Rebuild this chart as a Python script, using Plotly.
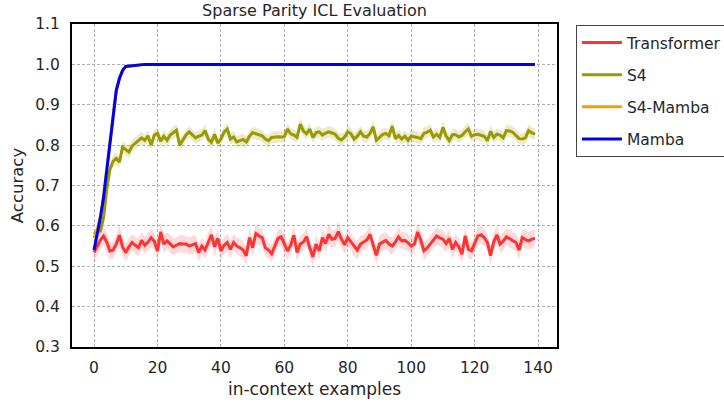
import plotly.graph_objects as go

steps = list(range(140))

transformer = [0.534,0.548,0.565,0.575,0.560,0.538,0.540,0.555,0.577,0.548,
0.534,0.548,0.559,0.552,0.546,0.564,0.552,0.560,0.571,0.562,
0.538,0.585,0.555,0.563,0.556,0.548,0.552,0.556,0.555,0.555,
0.550,0.553,0.556,0.534,0.550,0.540,0.560,0.578,0.548,0.569,
0.538,0.552,0.559,0.542,0.559,0.550,0.546,0.540,0.526,0.571,
0.546,0.581,0.575,0.571,0.546,0.540,0.531,0.550,0.569,0.573,
0.555,0.538,0.552,0.577,0.534,0.555,0.560,0.573,0.546,0.523,
0.555,0.538,0.571,0.556,0.579,0.567,0.569,0.586,0.567,0.553,
0.571,0.560,0.548,0.540,0.555,0.559,0.565,0.579,0.550,0.527,
0.555,0.560,0.564,0.555,0.550,0.560,0.573,0.563,0.564,0.558,
0.550,0.555,0.585,0.565,0.538,0.545,0.555,0.565,0.575,0.570,
0.567,0.556,0.569,0.542,0.559,0.548,0.530,0.575,0.542,0.538,
0.555,0.575,0.578,0.571,0.559,0.526,0.560,0.578,0.555,0.562,
0.573,0.568,0.563,0.559,0.540,0.571,0.566,0.563,0.567,0.569]

transformer_std = [0.026,0.024,0.022,0.023,0.024,0.022,0.021,0.023,0.025,0.022,
0.021,0.022,0.020,0.021,0.022,0.021,0.020,0.022,0.023,0.021,
0.022,0.025,0.021,0.020,0.022,0.021,0.020,0.021,0.022,0.020,
0.021,0.022,0.020,0.022,0.021,0.020,0.022,0.024,0.021,0.022,
0.021,0.020,0.022,0.021,0.020,0.021,0.022,0.021,0.023,0.022,
0.021,0.023,0.022,0.021,0.022,0.021,0.022,0.020,0.022,0.023,
0.021,0.022,0.021,0.023,0.022,0.021,0.022,0.023,0.021,0.024,
0.021,0.022,0.023,0.021,0.024,0.022,0.021,0.024,0.022,0.021,
0.022,0.021,0.022,0.023,0.021,0.020,0.022,0.024,0.022,0.023,
0.021,0.022,0.021,0.020,0.021,0.022,0.023,0.021,0.022,0.021,
0.021,0.022,0.024,0.022,0.023,0.021,0.022,0.021,0.022,0.021,
0.022,0.021,0.022,0.023,0.021,0.022,0.023,0.022,0.023,0.022,
0.021,0.023,0.022,0.021,0.022,0.023,0.022,0.023,0.021,0.022,
0.021,0.022,0.021,0.022,0.023,0.021,0.022,0.021,0.022,0.021]

s4 = [0.579,0.587,0.587,0.620,0.690,0.740,0.760,0.767,0.758,0.795,
0.789,0.783,0.798,0.805,0.811,0.818,0.812,0.823,0.800,0.825,
0.829,0.810,0.822,0.812,0.825,0.830,0.837,0.800,0.812,0.825,
0.833,0.825,0.818,0.822,0.825,0.836,0.815,0.807,0.827,0.805,
0.815,0.832,0.840,0.815,0.820,0.808,0.812,0.814,0.808,0.822,
0.831,0.828,0.826,0.823,0.815,0.811,0.819,0.820,0.821,0.820,
0.821,0.840,0.828,0.825,0.819,0.852,0.835,0.828,0.840,0.819,
0.831,0.833,0.825,0.830,0.833,0.830,0.827,0.817,0.813,0.820,
0.833,0.828,0.815,0.822,0.833,0.822,0.820,0.829,0.845,0.812,
0.820,0.826,0.829,0.823,0.847,0.816,0.824,0.815,0.822,0.812,
0.822,0.821,0.819,0.816,0.829,0.832,0.837,0.820,0.827,0.819,
0.844,0.822,0.811,0.826,0.826,0.820,0.824,0.833,0.840,0.822,
0.826,0.827,0.824,0.822,0.811,0.834,0.819,0.827,0.825,0.818,
0.836,0.835,0.832,0.825,0.816,0.815,0.818,0.836,0.830,0.827]

s4_std = [0.010,0.012,0.013,0.015,0.017,0.016,0.015,0.015,0.014,0.015,
0.014,0.014,0.015,0.014,0.015,0.015,0.014,0.015,0.014,0.015,
0.014,0.015,0.014,0.015,0.014,0.015,0.016,0.015,0.014,0.015,
0.015,0.014,0.015,0.014,0.015,0.015,0.014,0.015,0.015,0.014,
0.015,0.014,0.015,0.014,0.015,0.014,0.014,0.015,0.014,0.015,
0.014,0.015,0.014,0.015,0.014,0.015,0.014,0.015,0.014,0.014,
0.015,0.015,0.014,0.015,0.014,0.016,0.015,0.014,0.015,0.014,
0.015,0.014,0.015,0.014,0.015,0.014,0.015,0.014,0.015,0.014,
0.015,0.014,0.015,0.014,0.015,0.014,0.015,0.014,0.016,0.015,
0.014,0.015,0.014,0.015,0.016,0.014,0.015,0.014,0.015,0.014,
0.015,0.014,0.015,0.014,0.015,0.014,0.015,0.014,0.015,0.014,
0.016,0.015,0.014,0.015,0.014,0.015,0.014,0.015,0.015,0.014,
0.015,0.014,0.015,0.014,0.015,0.015,0.014,0.015,0.014,0.015,
0.015,0.014,0.015,0.014,0.015,0.014,0.015,0.015,0.014,0.015]

mamba_head = [0.540,0.580,0.620,0.670,0.740,0.810,0.880,0.935,0.965,0.985,
0.995,0.996,0.997,0.998,0.999]
mamba = mamba_head + [1.0] * (140 - len(mamba_head))

s4_mamba_head = [0.570,0.590,0.625,0.672,0.742,0.812,0.882,0.936,0.966,0.986,
0.995,0.996,0.997,0.998,0.999]
s4_mamba = s4_mamba_head + [1.0] * (140 - len(s4_mamba_head))

series = [
    ("Transformer", transformer, transformer_std, "#ff3333", "rgba(255,70,70,0.2)"),
    ("S4", s4, s4_std, "#999900", "rgba(153,153,0,0.2)"),
    ("S4-Mamba", s4_mamba, None, "#f0a000", None),
    ("Mamba", mamba, None, "#0000ee", None),
]

fig = go.Figure()
for i, (name, vals, std, color, fill) in enumerate(series):
    if std is not None:
        upper = [v + s for v, s in zip(vals, std)]
        lower = [v - s for v, s in zip(vals, std)]
        fig.add_trace(go.Scatter(x=steps + steps[::-1], y=upper + lower[::-1],
                                 fill="toself", fillcolor=fill, line=dict(width=0),
                                 hoverinfo="skip", showlegend=False, mode="lines"))
    fig.add_trace(go.Scatter(x=steps, y=vals, mode="lines", name=name,
                             legendgroup=name,
                             line=dict(color=color, width=3)))

axis_common = dict(
    showline=True, linecolor="black", linewidth=2, mirror=True,
    showgrid=True, gridcolor="#b0b0b0", griddash="3px,2px", gridwidth=1,
    zeroline=False, ticks="", tickfont=dict(size=15.5, color="#262626"),
    automargin=False,
)

fig.update_layout(
    width=724, height=402,
    margin=dict(l=72, r=167, t=24, b=55, autoexpand=False),
    paper_bgcolor="white", plot_bgcolor="white",
    font=dict(family="DejaVu Sans", color="#262626"),
    title=dict(text="Sparse Parity ICL Evaluation", x=(72 + 557) / 2 / 724, xanchor="center",
               y=1 - 10 / 402, yanchor="middle", font=dict(size=16, color="#262626")),
    xaxis=dict(range=[-6.95, 145.95], tickvals=[0, 20, 40, 60, 80, 100, 120, 140],
               ticklabelstandoff=5,
               title=dict(text="in-context examples", font=dict(size=17), standoff=8),
               **axis_common),
    yaxis=dict(range=[0.3, 1.1], tickvals=[0.3, 0.4, 0.5, 0.6, 0.7, 0.8, 0.9, 1.0, 1.1],
               tickformat=".1f", ticklabelstandoff=7,
               title=dict(text="Accuracy", font=dict(size=16.5), standoff=7),
               **axis_common),
    legend=dict(x=1.039, y=0.997, xanchor="left", yanchor="top",
                bordercolor="#444444", borderwidth=1, bgcolor="white",
                font=dict(size=15.5, color="#262626"), tracegroupgap=9,
                itemwidth=40),
    showlegend=True,
)

fig.write_html("out.html", config={"displayModeBar": False},
               post_script="document.body.style.margin='0';")
